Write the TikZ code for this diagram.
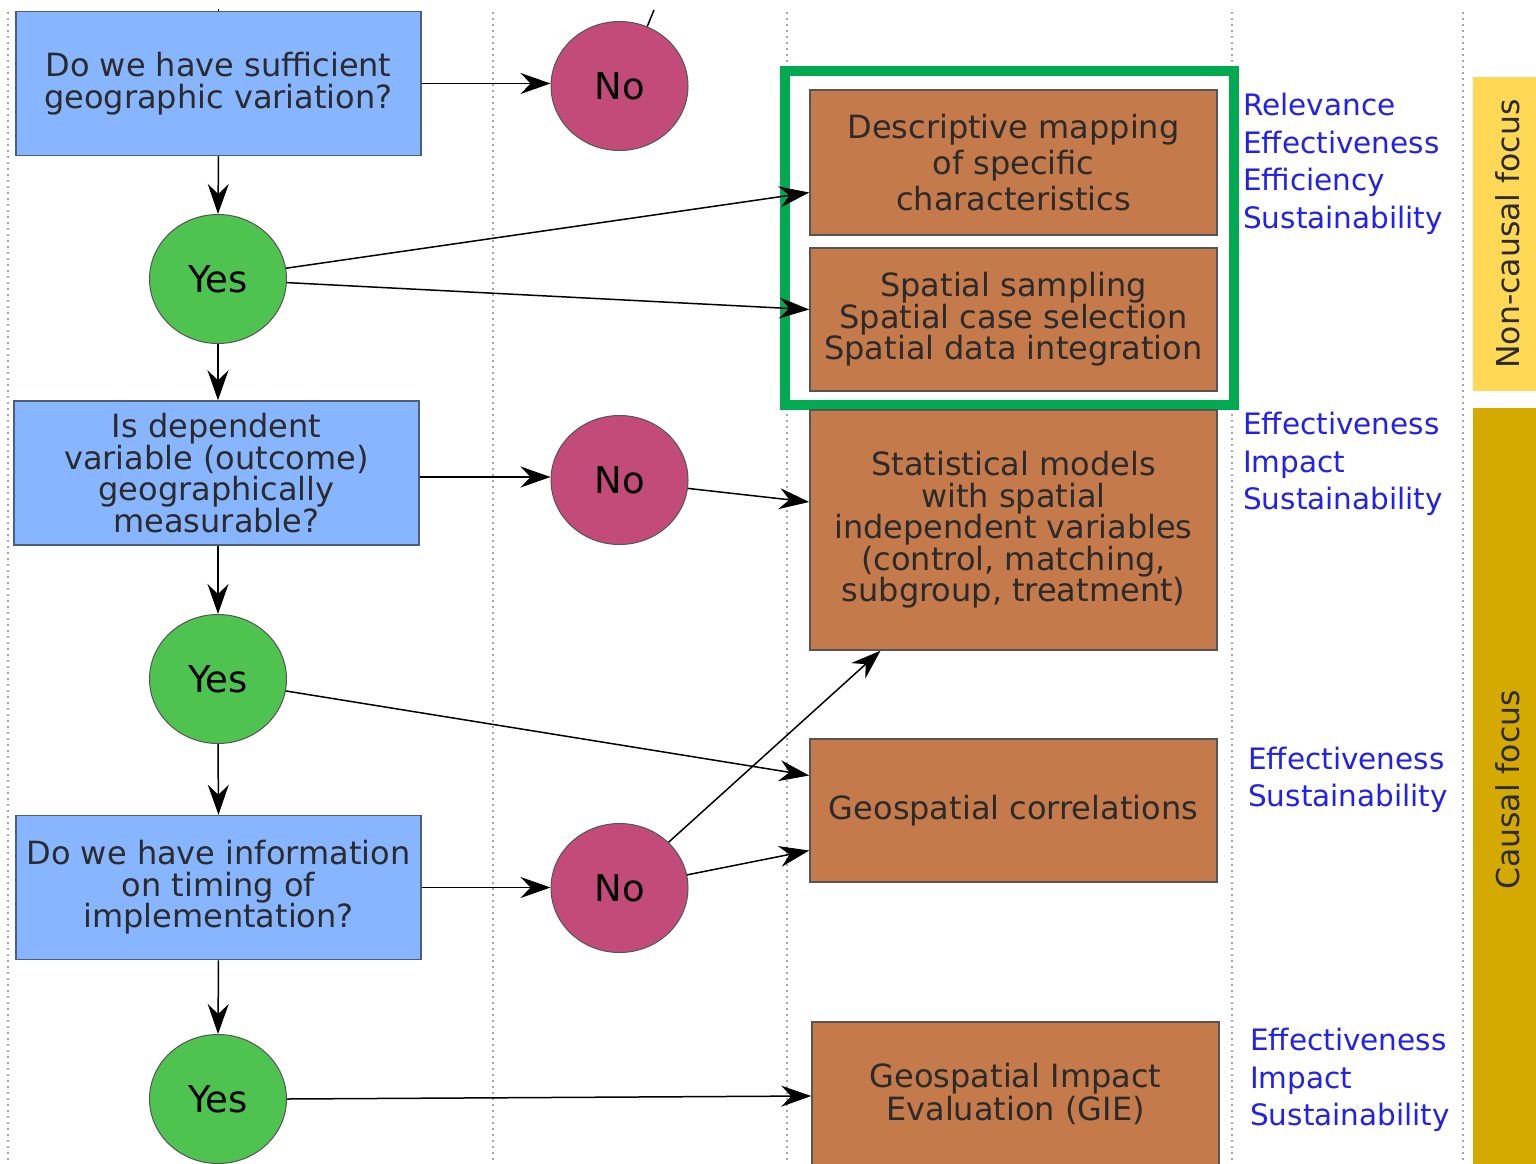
\documentclass[tikz,border=0pt]{standalone}
\usepackage{fontspec}
\setmainfont{DejaVu Sans}
\usetikzlibrary{arrows.meta,shapes.geometric,calc}
\definecolor{qfill}{HTML}{87B5FF}
\definecolor{qdraw}{HTML}{4D5D7A}
\definecolor{yfill}{HTML}{4FC34F}
\definecolor{nfill}{HTML}{C24B7A}
\definecolor{ofill}{HTML}{C47A4A}
\definecolor{gframe}{HTML}{00AA50}
\definecolor{lblue}{HTML}{2020F0}
\definecolor{barlight}{HTML}{FFD955}
\definecolor{bardark}{HTML}{D4AA00}
\definecolor{txt}{HTML}{2B2B2B}
\definecolor{edgegray}{HTML}{555555}
\tikzset{
  qbox/.style={rectangle, draw=qdraw, line width=1.5pt, fill=qfill, text=txt, align=center,
    inner sep=0pt, minimum width=405pt, minimum height=144pt, font=\fontsize{32}{31.5}\selectfont},
  obox/.style={rectangle, draw=edgegray, line width=1.5pt, fill=ofill, text=txt, align=center,
    inner sep=0pt, minimum width=407pt, font=\fontsize{32}{31.5}\selectfont},
  ybub/.style={ellipse, draw=edgegray, line width=1pt, fill=yfill, inner sep=0pt,
    minimum width=137pt, minimum height=129pt, font=\fontsize{37}{37}\selectfont},
  nbub/.style={ellipse, draw=edgegray, line width=1pt, fill=nfill, inner sep=0pt,
    minimum width=137pt, minimum height=129pt, font=\fontsize{37}{37}\selectfont},
  lbl/.style={text=lblue, align=left, anchor=west, inner sep=0pt, font=\fontsize{29.5}{37.5}\selectfont},
  vtext/.style={rotate=90, text=txt, inner sep=0pt, font=\fontsize{31.5}{31.5}\selectfont},
  conn/.style={line width=1.5pt, -{Stealth[length=30pt,width=21pt,inset=10pt]}},
  plainconn/.style={line width=1.5pt},
  dotl/.style={line width=2pt, gray!70, dash pattern=on 2pt off 4pt}
}
\begin{document}
\begin{tikzpicture}[x=1pt,y=-1pt]
\useasboundingbox (0,0) rectangle (1536,1164);
% dotted guide lines
\foreach \xx in {8,493,787,1232,1463} \draw[dotl] (\xx,12) -- (\xx,1164);
% side bars
\fill[barlight] (1473,77) rectangle (1540,391);
\fill[bardark] (1473,408) rectangle (1540,1170);
\node[vtext] (nc) at (1508,234) {Non-causal focus};
\node[vtext] (cf) at (1508,790) {Causal focus};
% green frame
\draw[gframe, line width=10pt] (785,71) rectangle (1234,405);
% question boxes
\node[qbox] (q1) at (218.5,83.5) {Do we have sufficient\\geographic variation?};
\node[qbox] (q2) at (216.5,473) {Is dependent\\variable (outcome)\\geographically\\measurable?};
\node[qbox] (q3) at (218.5,887.5) {Do we have information\\on timing of\\implementation?};
% bubbles
\node[ybub] (y1) at (218,279) {Yes};
\node[ybub] (y2) at (218,679) {Yes};
\node[ybub] (y3) at (218,1099) {Yes};
\node[nbub] (n1) at (619.5,86) {No};
\node[nbub] (n2) at (619.5,480) {No};
\node[nbub] (n3) at (619.5,888) {No};
% outcome boxes
\node[obox, minimum height=145pt, font=\fontsize{32}{36}\selectfont] (b1) at (1013.5,162.5) {Descriptive mapping\\of specific\\characteristics};
\node[obox, minimum height=143pt] (b2) at (1013.5,319.5) {Spatial sampling\\Spatial case selection\\Spatial data integration};
\node[obox, minimum height=240pt] (b3) at (1013.5,530) {Statistical models\\with spatial\\independent variables\\(control, matching,\\subgroup, treatment)};
\node[obox, minimum height=143pt] (b4) at (1013.5,810.5) {Geospatial correlations};
\node[obox, minimum height=156pt] (b5) at (1015.5,1100) {\begin{tabular}{@{}c@{}}Geospatial Impact\\Evaluation (GIE)\\[7pt]\end{tabular}};
% criteria labels
\node[lbl] (l1) at (1243,164) {Relevance\\Effectiveness\\Efficiency\\Sustainability};
\node[lbl] (l2) at (1243,464) {Effectiveness\\Impact\\Sustainability};
\node[lbl] (l3) at (1248,780) {Effectiveness\\Sustainability};
\node[lbl] (l4) at (1250,1080) {Effectiveness\\Impact\\Sustainability};
% off-frame connector ends
\coordinate (topA) at (654,10);
\coordinate (topB) at (218.5,9);
\draw[plainconn] (n1.65) -- (topA);
\draw[plainconn] (q1.north) -- (topB);
% connectors
\draw[conn] (q1.east) -- (q1.east -| n1.west);
\draw[conn] (q1.south) -- (y1.north);
\draw[conn] (y1.9) -- ($(b1.west)+(0,30)$);
\draw[conn] (y1.-3) -- ($(b2.west)+(0,-10)$);
\draw[conn] (y1.south) -- (y1.south |- q2.north);
\draw[conn] ($(q2.east)+(0,4)$) -- ($(q2.east -| n2.west)+(0,4)$);
\draw[conn] (n2.-7) -- ($(b3.west)+(0,-28)$);
\draw[conn] (y2.north |- q2.south) -- (y2.north);
\draw[conn] (y2.-10) -- ($(b4.west)+(0,-35)$);
\draw[conn] (y2.south) -- (q3.north);
\draw[conn] (q3.east) -- (q3.east -| n3.west);
\draw[conn] (n3.43) -- ($(b3.south)+(-133,0)$);
\draw[conn] (n3.11) -- ($(b4.west)+(0,40)$);
\draw[conn] (q3.south) -- (y3.north);
\draw[conn] (y3.east) -- ($(b5.west)+(0,-4)$);
\end{tikzpicture}
\end{document}
